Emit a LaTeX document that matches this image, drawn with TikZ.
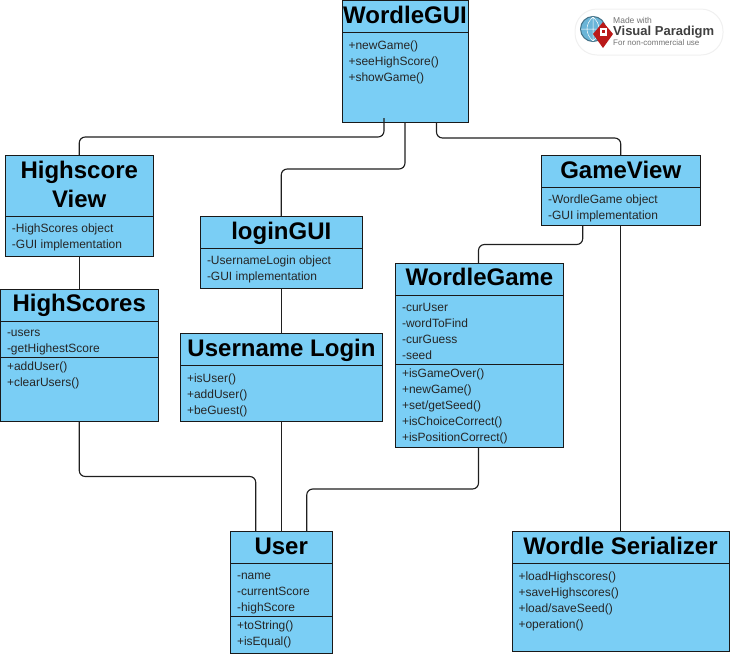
\documentclass[tikz,border=0pt]{standalone}
\usepackage{fontspec}
\setmainfont{Liberation Sans}
\usepackage{xcolor}
\usetikzlibrary{shapes,shapes.multipart}
\usetikzlibrary{arrows.meta}
\definecolor{classblue}{RGB}{122,206,245}
\newcommand{\classtitle}[2]{\vbox to \dimexpr#1pt-0.9pt\relax{\vskip 2pt\vfil\hbox to 0pt{\hss\fontsize{24}{29}\selectfont\bfseries\color{black}\begin{tabular}{@{}c@{}}#2\end{tabular}\hss}\vfil}}
\newcommand{\classbody}[3]{\vbox to \dimexpr#1pt-0.9pt\relax{\vskip \dimexpr#2pt+0.7pt\relax\hbox{\begin{tabular}{@{}l@{}}#3\end{tabular}}\vfil}}

\begin{document}
\begin{tikzpicture}[x=1pt,y=-1pt]
\tikzset{classbox/.style={rectangle split,rectangle split parts=2,rectangle split part align={center,left,left},rectangle split part fill={classblue},draw=black!90,line width=0.9pt,anchor=north west,inner ysep=0pt,inner xsep=6.5pt,outer sep=0pt,font=\fontsize{12}{16}\selectfont,text=black!85},
threeparts/.style={rectangle split parts=3},
assoc/.style={draw=black!88,line width=1.15pt,rounded corners=6pt},
badgetext/.style={inner sep=0pt,anchor=west,text=black!55}}
\useasboundingbox (0,0) rectangle (730,654);
\node[classbox,minimum width=126pt](wordlegui) at (342,0.5){\nodepart{one}\classtitle{31.5}{WordleGUI}\nodepart{two}\classbody{90}{5}{+newGame()\\+seeHighScore()\\+showGame()}};
\node[classbox,minimum width=147.5pt](hview) at (5.5,155.5){\nodepart{one}\classtitle{60.5}{Highscore\\View}\nodepart{two}\classbody{40}{3.7}{-HighScores object\\-GUI implementation}};
\node[classbox,threeparts,minimum width=157.5pt](hscores) at (0.5,289){\nodepart{one}\classtitle{32}{HighScores}\nodepart{two}\classbody{36}{2.7}{-users\\-getHighestScore}\nodepart{three}\classbody{64}{0.7}{+addUser()\\+clearUsers()}};
\node[classbox,minimum width=161.5pt](logingui) at (200.5,216.5){\nodepart{one}\classtitle{32}{loginGUI}\nodepart{two}\classbody{40}{3.7}{-UsernameLogin object\\-GUI implementation}};
\node[classbox,minimum width=202pt](ulogin) at (180.5,333.5){\nodepart{one}\classtitle{32}{Username Login}\nodepart{two}\classbody{56}{5}{+isUser()\\+addUser()\\+beGuest()}};
\node[classbox,minimum width=158.5pt](gameview) at (541.5,155.5){\nodepart{one}\classtitle{32}{GameView}\nodepart{two}\classbody{38}{3.7}{-WordleGame object\\-GUI implementation}};
\node[classbox,threeparts,minimum width=168pt](wgame) at (395.5,263){\nodepart{one}\classtitle{32}{WordleGame}\nodepart{two}\classbody{69}{3.7}{-curUser\\-wordToFind\\-curGuess\\-seed}\nodepart{three}\classbody{83}{0.7}{+isGameOver()\\+newGame()\\+set/getSeed()\\+isChoiceCorrect()\\+isPositionCorrect()}};
\node[classbox,threeparts,minimum width=101.5pt](user) at (230.5,531.5){\nodepart{one}\classtitle{32}{User}\nodepart{two}\classbody{52.5}{3.5}{-name\\-currentScore\\-highScore}\nodepart{three}\classbody{37}{1}{+toString()\\+isEqual()}};
\node[classbox,minimum width=217pt](wserial) at (512,531.5){\nodepart{one}\classtitle{32}{Wordle Serializer}\nodepart{two}\classbody{87.5}{5}{+loadHighscores()\\+saveHighscores()\\+load/saveSeed()\\+operation()}};
\draw[assoc]([xshift=-21pt,yshift=4pt]wordlegui.south) -- ++(0,19) -| (hview.north);
\draw[assoc](wordlegui.south) -- ++(0,47) -| (logingui.north);
\draw[assoc]([xshift=31.5pt]wordlegui.south) -- ++(0,16) -| (gameview.north);
\draw[assoc](hview.south) -- (hview.south |- hscores.north);
\draw[assoc](logingui.south) -- (logingui.south |- ulogin.north);
\draw[assoc]([xshift=-38pt]gameview.south) -- ++(0,19) -| ([xshift=-1pt]wgame.north);
\draw[assoc](gameview.south) -- (gameview.south |- wserial.north);
\draw[assoc](hscores.south) -- ++(0,55.5) -| ([xshift=-25.5pt]user.north);
\draw[assoc](logingui.south |- ulogin.south) -- (logingui.south |- user.north);
\draw[assoc]([xshift=-1pt]wgame.south) -- ++(0,42) -| ([xshift=25.5pt]user.north);
\fill[white,draw=black!6,line width=1pt,rounded corners=22pt](575,9) rectangle (723,55);
\fill[black!12!classblue,draw=black!45!classblue,line width=1pt](593,29) circle (12.5);
\draw[white,line width=0.5pt](581,29) -- (605,29) (593,17) -- (593,41) (593,17) .. controls (585,24) and (585,34) .. (593,41) (593,17) .. controls (601,24) and (601,34) .. (593,41);
\fill[red!70!black!90](603,22) -- (613,34) -- (603,48) -- (593,34) -- cycle;
\fill[white](600,28) rectangle (607,36);
\fill[red!70!black!90](602,30) rectangle (605,33);
\node[badgetext,font=\fontsize{8.5}{10}\selectfont](madewith) at (613,20.5){Made with};
\node[badgetext,font=\fontsize{13}{15}\selectfont\bfseries,text=black!75](vpname) at (613,32){Visual Paradigm};
\node[badgetext,font=\fontsize{8}{10}\selectfont](noncomm) at (613,43){For non-commercial use};
\end{tikzpicture}
\end{document}
